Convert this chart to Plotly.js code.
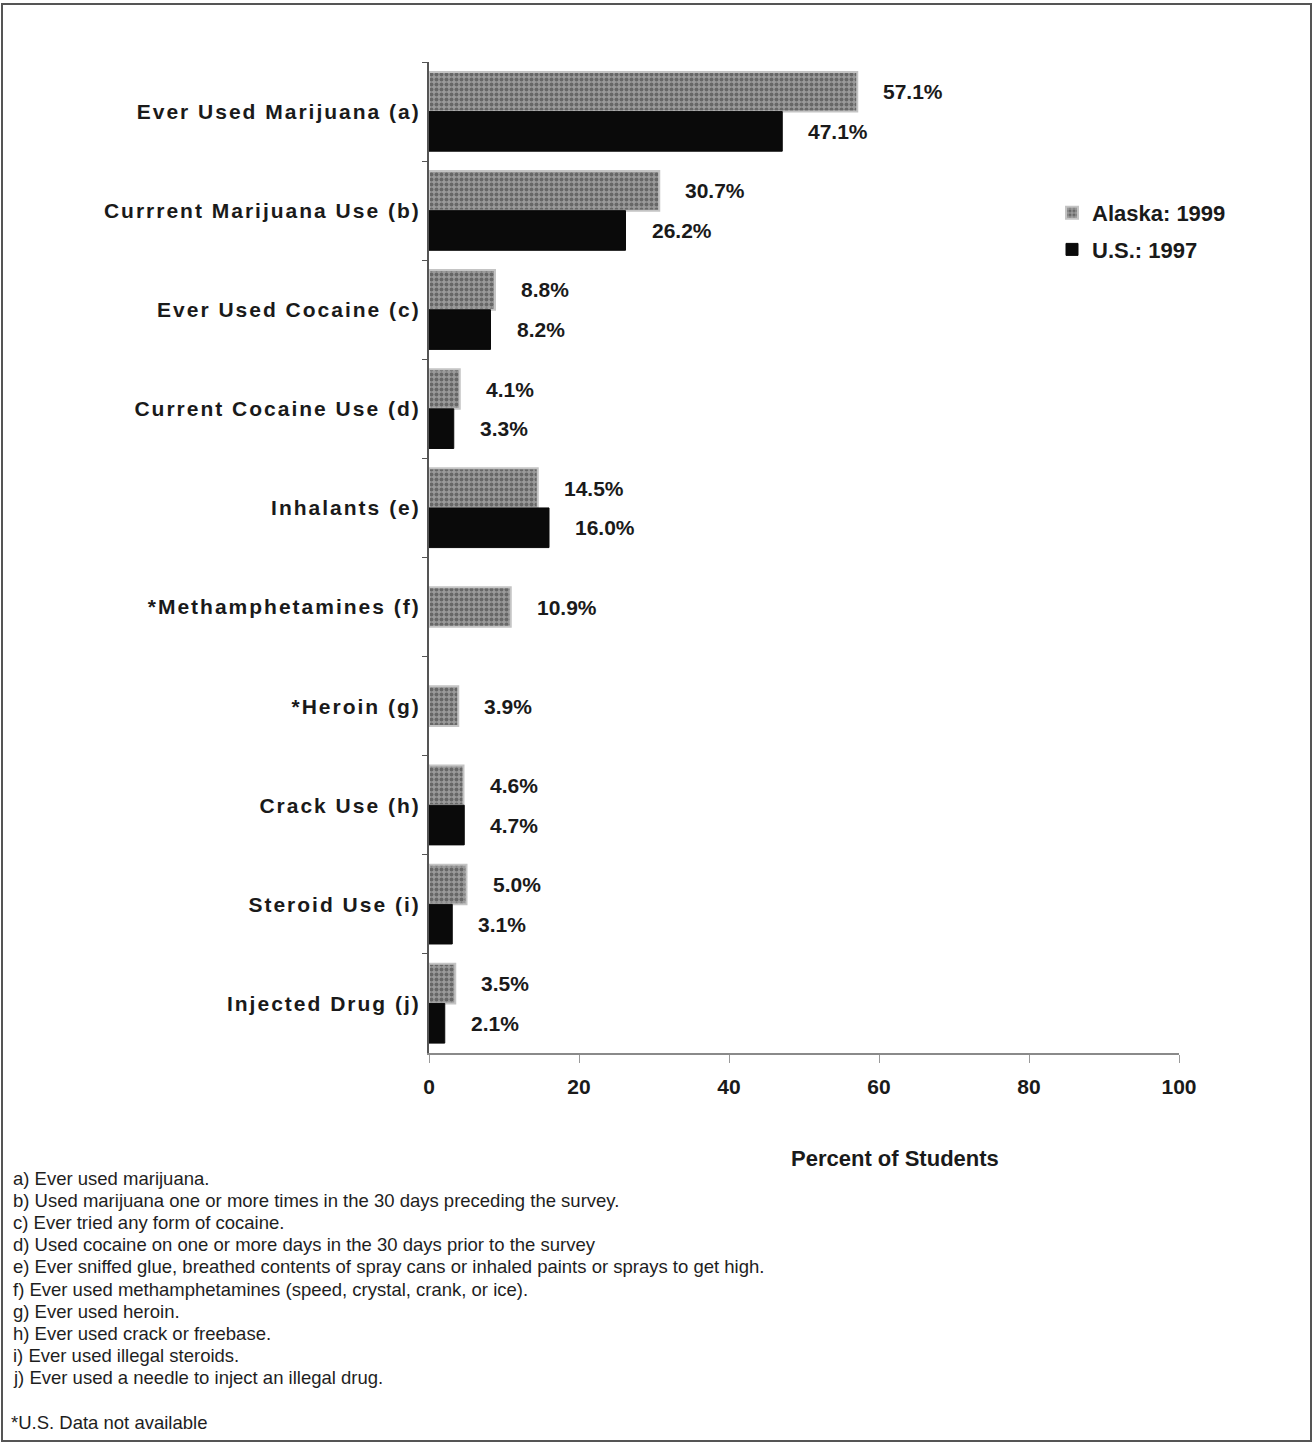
<!DOCTYPE html>
<html>
<head>
<meta charset="utf-8">
<script src="https://cdn.plot.ly/plotly-3.0.1.min.js"></script>
<style>
  html, body { margin: 0; padding: 0; background: #ffffff; }
  #chart { width: 1314px; height: 1442px; }
  g.ytick text { letter-spacing: 2px; }
</style>
</head>
<body>
<div id="chart"></div>
<script>
// ---- data ----
const categories = [
  'Ever Used Marijuana (a)',
  'Currrent Marijuana Use (b)',
  'Ever Used Cocaine (c)',
  'Current Cocaine Use (d)',
  'Inhalants (e)',
  '*Methamphetamines (f)',
  '*Heroin (g)',
  'Crack Use (h)',
  'Steroid Use (i)',
  'Injected Drug (j)'
];
const alaska1999 = [57.1, 30.7, 8.8, 4.1, 14.5, 10.9, 3.9, 4.6, 5.0, 3.5];
const us1997     = [47.1, 26.2, 8.2, 3.3, 16.0, null, null, 4.7, 3.1, 2.1];
const seriesNames = ['Alaska: 1999', 'U.S.: 1997'];
const xTicks = [0, 20, 40, 60, 80, 100];
const xTitle = 'Percent of Students';
const footnotes = [
  'a) Ever used marijuana.',
  'b) Used marijuana one or more times in the 30 days preceding the survey.',
  'c) Ever tried any form of cocaine.',
  'd) Used cocaine on one or more days in the 30 days prior to the survey',
  'e) Ever sniffed glue, breathed contents of spray cans or inhaled paints or sprays to get high.',
  'f) Ever used methamphetamines (speed, crystal, crank, or ice).',
  'g) Ever used heroin.',
  'h) Ever used crack or freebase.',
  'i) Ever used illegal steroids.',
  'j) Ever used a needle to inject an illegal drug.'
];
const unavailableNote = '*U.S. Data not available';

// ---- layout geometry ----
const W = 1314, H = 1442;
const ML = 429, MR = 135, MT = 62, MB = 389;
const PW = W - ML - MR, PH = H - MT - MB;
const px2x = px => (px - ML) / PW;
const py2y = py => 1 - (py - MT) / PH;

const font = 'Liberation Sans, Arial, Helvetica, sans-serif';

const barW = 0.4;
const alaskaOffset = us1997.map(v => v == null ? -barW / 2 : -barW);
const usOffset = us1997.map(() => 0);

const traces = [
  {
    type: 'bar', orientation: 'h', name: seriesNames[0], legendgroup: 'a',
    y: categories, x: alaska1999,
    width: barW, offset: alaskaOffset,
    marker: {
      color: '#9a9a9a',
      line: { color: '#c4c4c4', width: 2 },
      pattern: { shape: '.', fillmode: 'overlay', fgcolor: '#333333', size: 5, solidity: 0.5 }
    },
    hoverinfo: 'skip'
  },
  {
    type: 'bar', orientation: 'h', name: seriesNames[1], legendgroup: 'b',
    y: categories, x: us1997,
    width: barW, offset: usOffset,
    marker: { color: '#0a0a0a', line: { color: '#0a0a0a', width: 1 } },
    hoverinfo: 'skip'
  }
];

const annotations = [];
function valueLabel(v, yPos) {
  return {
    x: v, y: yPos, xref: 'x', yref: 'y',
    text: '<b>' + v.toFixed(1) + '%</b>', showarrow: false,
    xanchor: 'left', yanchor: 'middle', xshift: 24,
    font: { family: font, size: 21, color: '#1a1a1a' }
  };
}
alaska1999.forEach((v, i) => {
  if (v == null) return;
  annotations.push(valueLabel(v, i + alaskaOffset[i] + barW / 2));
});
us1997.forEach((v, i) => {
  if (v == null) return;
  annotations.push(valueLabel(v, i + usOffset[i] + barW / 2));
});
// axis title
annotations.push({
  x: px2x(895), y: py2y(1158), xref: 'paper', yref: 'paper',
  text: '<b>' + xTitle + '</b>', showarrow: false,
  xanchor: 'center', yanchor: 'middle',
  font: { family: font, size: 22, color: '#1a1a1a' }
});
// footnotes
footnotes.forEach((t, i) => {
  annotations.push({
    x: px2x(11), y: py2y(1178 + i * 22.2), xref: 'paper', yref: 'paper',
    text: t, showarrow: false, xanchor: 'left', yanchor: 'middle',
    font: { family: font, size: 18.5, color: '#1e1e1e' }
  });
});
annotations.push({
  x: px2x(9), y: py2y(1422), xref: 'paper', yref: 'paper',
  text: unavailableNote, showarrow: false, xanchor: 'left', yanchor: 'middle',
  font: { family: font, size: 18.5, color: '#1e1e1e' }
});

const layout = {
  width: W, height: H,
  margin: { l: ML, r: MR, t: MT, b: MB, pad: 0 },
  paper_bgcolor: '#ffffff', plot_bgcolor: '#ffffff',
  showlegend: true,
  legend: {
    x: px2x(1052), y: py2y(192), xanchor: 'left', yanchor: 'top',
    font: { family: font, size: 22, color: '#1a1a1a', weight: 'bold' },
    bgcolor: 'rgba(0,0,0,0)', itemwidth: 30, tracegroupgap: 5
  },
  barmode: 'overlay',
  xaxis: {
    range: [0, 100], tickvals: xTicks, ticktext: xTicks.map(String),
    showgrid: false, zeroline: false,
    showline: true, linecolor: '#8a8a8a', linewidth: 2,
    ticks: 'outside', ticklen: 8, tickcolor: '#9a9a9a', tickwidth: 1,
    tickfont: { family: font, size: 21, color: '#1a1a1a', weight: 'bold' },
    ticklabelstandoff: 6
  },
  yaxis: {
    type: 'category', autorange: 'reversed',
    showgrid: false, zeroline: false,
    showline: true, linecolor: '#555', linewidth: 2,
    ticks: 'outside', ticklen: 5, tickcolor: '#555', tickson: 'boundaries',
    tickfont: { family: font, size: 21, color: '#1a1a1a', weight: 'bold' },
    ticklabelstandoff: 2
  },
  annotations: annotations,
  shapes: [{
    type: 'rect', xref: 'paper', yref: 'paper',
    x0: px2x(2), x1: px2x(1311), y0: py2y(1441), y1: py2y(4),
    line: { color: '#555', width: 2 }, fillcolor: 'rgba(0,0,0,0)', layer: 'below'
  }]
};

Plotly.newPlot('chart', traces, layout, { staticPlot: true, displayModeBar: false });
</script>
</body>
</html>
